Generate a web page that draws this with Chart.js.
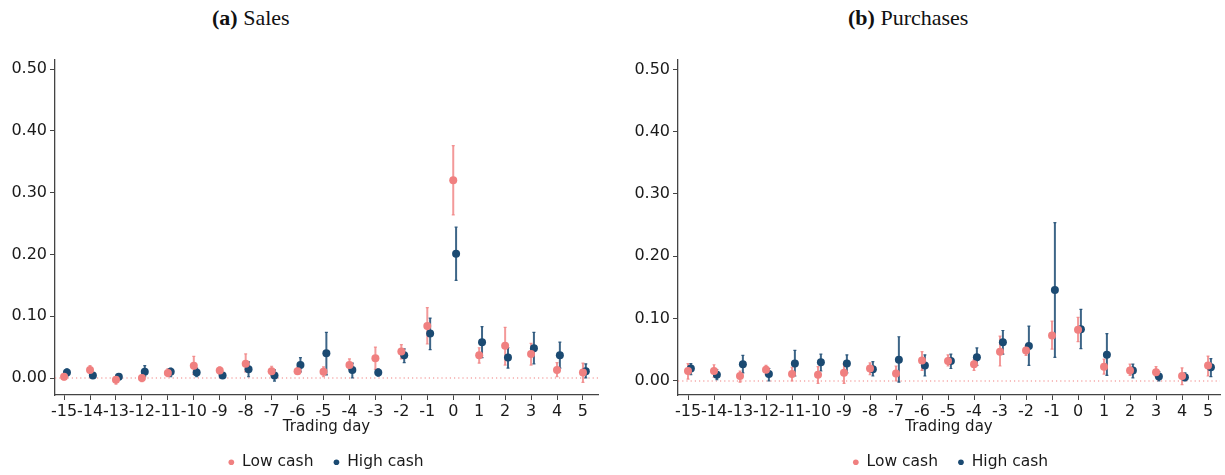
<!DOCTYPE html>
<html>
<head>
<meta charset="utf-8">
<script src="https://cdn.jsdelivr.net/npm/chart.js@4.4.0/dist/chart.umd.min.js"></script>
<style>
  body { margin: 0; background: #fff; width: 1225px; height: 475px; overflow: hidden; position: relative; }
  canvas { position: absolute; top: 0; }
  .ttl { position: absolute; top: 7px; font-family: "Liberation Serif", serif; font-size: 22px; line-height: 22px; color: #111; white-space: nowrap; }
</style>
</head>
<body>
<div class="ttl" style="left:212px"><b>(a)</b> Sales</div>
<div class="ttl" style="left:848px"><b>(b)</b> Purchases</div>
<canvas id="salesChart" width="612" height="475" style="left:0"></canvas>
<canvas id="purchChart" width="602" height="475" style="left:623px"></canvas>
<script>
// x categories (trading day) and y tick values
const days = [-15, -14, -13, -12, -11, -10, -9, -8, -7, -6, -5, -4, -3, -2, -1, 0, 1, 2, 3, 4, 5];
const yTicks = [0, 0.1, 0.2, 0.3, 0.4, 0.5];

// (a) Sales: point estimates and confidence bounds
const salesLow   = [0.002, 0.013, -0.003, 0.000, 0.008, 0.020, 0.012, 0.023, 0.011, 0.011, 0.010, 0.021, 0.032, 0.043, 0.084, 0.320, 0.037, 0.052, 0.039, 0.013, 0.009];
const salesLowLo = [-0.003, 0.007, -0.010, -0.006, 0.002, 0.006, 0.006, 0.010, 0.005, 0.006, 0.002, 0.014, 0.014, 0.031, 0.055, 0.264, 0.024, 0.021, 0.021, 0.002, -0.007];
const salesLowHi = [0.007, 0.020, 0.002, 0.005, 0.015, 0.035, 0.018, 0.039, 0.019, 0.017, 0.018, 0.031, 0.050, 0.054, 0.114, 0.376, 0.049, 0.082, 0.056, 0.025, 0.024];
const salesHigh   = [0.009, 0.004, 0.002, 0.010, 0.010, 0.009, 0.004, 0.014, 0.004, 0.021, 0.040, 0.013, 0.009, 0.037, 0.072, 0.201, 0.058, 0.033, 0.048, 0.037, 0.011];
const salesHighLo = [0.002, 0.001, -0.002, 0.002, 0.002, 0.002, 0.000, 0.002, -0.005, 0.010, 0.005, 0.000, 0.003, 0.025, 0.046, 0.158, 0.033, 0.016, 0.023, 0.016, 0.000];
const salesHighHi = [0.015, 0.008, 0.007, 0.020, 0.016, 0.016, 0.008, 0.026, 0.013, 0.033, 0.074, 0.024, 0.015, 0.047, 0.097, 0.244, 0.083, 0.049, 0.074, 0.058, 0.023];

// (b) Purchases
const purchLow   = [0.016, 0.016, 0.008, 0.018, 0.011, 0.010, 0.013, 0.020, 0.012, 0.033, 0.032, 0.027, 0.047, 0.049, 0.073, 0.082, 0.023, 0.017, 0.014, 0.008, 0.025];
const purchLowLo = [0.003, 0.006, -0.002, 0.010, 0.000, -0.004, -0.004, 0.010, 0.000, 0.017, 0.024, 0.017, 0.024, 0.041, 0.051, 0.063, 0.011, 0.009, 0.007, -0.006, 0.008];
const purchLowHi = [0.028, 0.026, 0.016, 0.025, 0.022, 0.023, 0.027, 0.029, 0.024, 0.047, 0.042, 0.034, 0.072, 0.056, 0.096, 0.102, 0.035, 0.027, 0.023, 0.021, 0.040];
const purchHigh   = [0.020, 0.010, 0.027, 0.011, 0.028, 0.030, 0.028, 0.019, 0.034, 0.025, 0.032, 0.038, 0.062, 0.056, 0.146, 0.083, 0.042, 0.017, 0.007, 0.006, 0.022];
const purchHighLo = [0.010, 0.002, 0.013, 0.000, 0.008, 0.016, 0.013, 0.008, -0.002, 0.008, 0.020, 0.025, 0.043, 0.025, 0.038, 0.052, 0.009, 0.005, 0.000, 0.000, 0.007];
const purchHighHi = [0.028, 0.018, 0.041, 0.020, 0.049, 0.043, 0.042, 0.031, 0.071, 0.042, 0.043, 0.053, 0.081, 0.088, 0.254, 0.115, 0.076, 0.027, 0.015, 0.013, 0.036];

const LOW_COLOR = '#f08080';
const HIGH_COLOR = '#1b4a72';

Chart.defaults.font.family = '"DejaVu Sans", sans-serif';
Chart.defaults.color = '#1a1a1a';

// draws the dotted zero line and the confidence intervals through the chart scales
const errorBars = {
  id: 'errorBars',
  beforeDatasetsDraw(chart) {
    const { ctx, chartArea, scales: { x, y } } = chart;
    const y0 = y.getPixelForValue(0);
    ctx.save();
    ctx.strokeStyle = LOW_COLOR;
    ctx.lineWidth = 1.2;
    ctx.setLineDash([1.2, 3]);
    ctx.beginPath();
    ctx.moveTo(chartArea.left, y0);
    ctx.lineTo(chartArea.right, y0);
    ctx.stroke();
    ctx.setLineDash([]);
    chart.data.datasets.forEach(ds => {
      ctx.strokeStyle = ds.ciColor;
      ds.data.forEach((p, i) => {
        const px = x.getPixelForValue(p.x);
        const top = y.getPixelForValue(ds.ciHi[i]);
        const bot = y.getPixelForValue(ds.ciLo[i]);
        ctx.lineWidth = 2;
        ctx.beginPath();
        ctx.moveTo(px, top);
        ctx.lineTo(px, bot);
        ctx.stroke();
        ctx.lineWidth = 1.2;
        ctx.beginPath();
        ctx.moveTo(px - 1.5, top); ctx.lineTo(px + 1.5, top);
        ctx.moveTo(px - 1.5, bot); ctx.lineTo(px + 1.5, bot);
        ctx.stroke();
      });
    });
    ctx.restore();
  }
};

// moves the legend sideways so it sits where the original one does
const shiftLegend = {
  id: 'shiftLegend',
  afterLayout(chart, args, opts) {
    const lg = chart.legend;
    if (lg) { lg.left += opts.dx; lg.right += opts.dx; }
  }
};

function makeChart(id, low, lowLo, lowHi, high, highLo, highHi, o) {
  const ctx = document.getElementById(id).getContext('2d');
  return new Chart(ctx, {
    type: 'scatter',
    data: {
      datasets: [{
        label: 'Low cash',
        data: days.map((d, i) => ({ x: d, y: low[i] })),
        ciLo: lowLo, ciHi: lowHi,
        ciColor: 'rgba(240,128,128,0.8)',
        backgroundColor: LOW_COLOR,
        borderWidth: 0,
        pointRadius: 4,
        pointHoverRadius: 4
      }, {
        label: 'High cash',
        data: days.map((d, i) => ({ x: d + 0.11, y: high[i] })),
        ciLo: highLo, ciHi: highHi,
        ciColor: 'rgba(27,74,114,0.85)',
        backgroundColor: HIGH_COLOR,
        borderWidth: 0,
        pointRadius: 4,
        pointHoverRadius: 4
      }]
    },
    options: {
      responsive: false,
      animation: false,
      devicePixelRatio: 1,
      layout: { padding: { top: 60, left: 0, right: o.padRight, bottom: -5 } },
      plugins: {
        shiftLegend: { dx: o.legendDx },
        legend: {
          position: 'bottom',
          labels: {
            usePointStyle: true,
            pointStyle: 'circle',
            boxWidth: 6,
            boxHeight: 4,
            padding: 20,
            font: { size: 15.5 },
            color: '#1a1a1a'
          }
        },
        tooltip: { enabled: false }
      },
      scales: {
        x: {
          type: 'linear',
          min: o.xmin,
          max: o.xmax,
          afterBuildTicks: s => { s.ticks = days.map(v => ({ value: v })); },
          afterFit: s => { s.height = 39.5; },
          ticks: { font: { size: 16 }, padding: 2, maxRotation: 0, autoSkip: false, callback: v => String(v) },
          grid: { drawOnChartArea: false, drawTicks: true, tickLength: 5, color: '#444', lineWidth: 1 },
          border: { display: true, color: '#444', width: 1.3 },
          title: { display: true, text: 'Trading day', font: { size: 15, lineHeight: 1 }, padding: { top: 0, bottom: 0 }, color: '#1a1a1a' }
        },
        y: {
          type: 'linear',
          min: o.ymin,
          max: o.ymax,
          afterBuildTicks: s => { s.ticks = yTicks.map(v => ({ value: v })); },
          afterFit: s => { s.width = 55; },
          ticks: { font: { size: 16 }, padding: 3, callback: v => Number(v).toFixed(2) },
          grid: { drawOnChartArea: false, drawTicks: true, tickLength: 5, color: '#444', lineWidth: 1 },
          border: { display: true, color: '#444', width: 1.3 }
        }
      }
    },
    plugins: [errorBars, shiftLegend]
  });
}

makeChart('salesChart', salesLow, salesLowLo, salesLowHi, salesHigh, salesHighLo, salesHighHi,
  { xmin: -15.35, xmax: 5.58, ymin: -0.0275, ymax: 0.5146, padRight: 14, legendDx: 27 });
makeChart('purchChart', purchLow, purchLowLo, purchLowHi, purchHigh, purchHighLo, purchHighHi,
  { xmin: -15.385, xmax: 5.46, ymin: -0.0225, ymax: 0.515, padRight: 5, legendDx: 29 });
</script>
</body>
</html>
